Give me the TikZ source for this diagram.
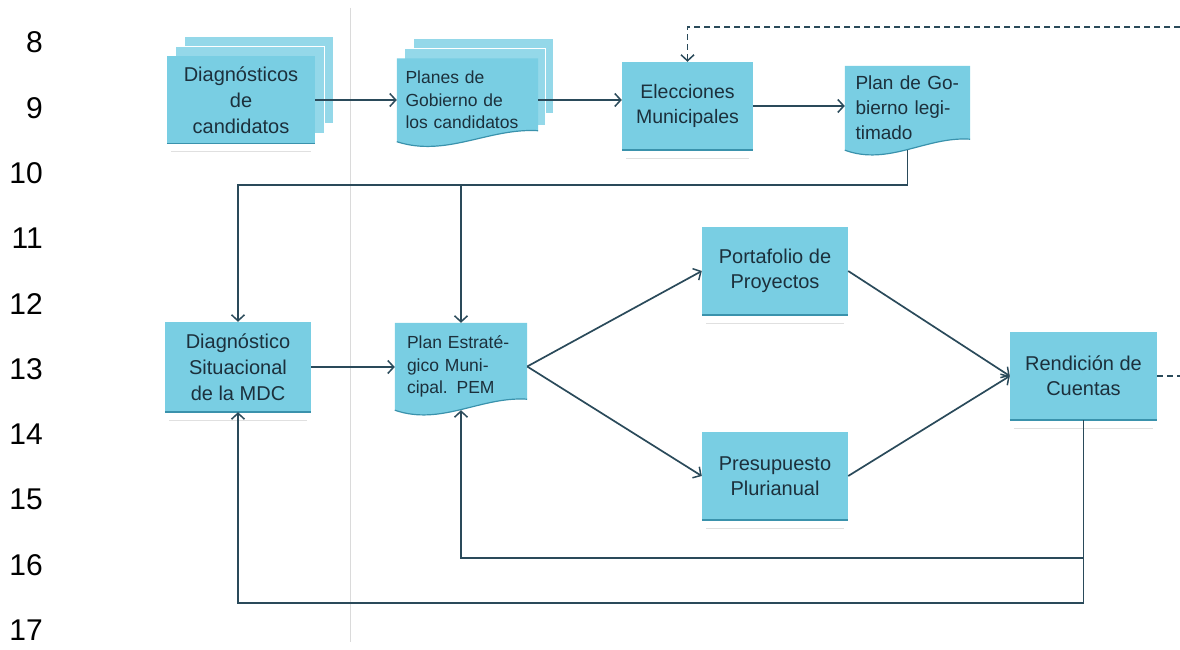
\documentclass[tikz,border=0pt]{standalone}
\usepackage{fontspec}
\setmainfont{Liberation Sans}
\usetikzlibrary{arrows.meta,backgrounds,calc}
\definecolor{boxblue}{RGB}{121,206,227}
\definecolor{boxedge}{RGB}{58,146,172}
\definecolor{flow}{RGB}{42,74,90}
\definecolor{txt}{RGB}{28,48,60}
\definecolor{rulegray}{RGB}{218,218,218}
\newcommand{\docfill}[1]{%
  \fill[boxblue] (#1.north west) -- (#1.north east) -- ($(#1.south east)+(0,-11)$)
    .. controls ($(#1.south west)!.65!(#1.south east)+(0,-14)$) and ($(#1.south west)!.35!(#1.south east)+(0,16)$) .. (#1.south west) -- cycle;
  \draw[boxedge, line width=1.2pt] ($(#1.south east)+(0,-11)$)
    .. controls ($(#1.south west)!.65!(#1.south east)+(0,-14)$) and ($(#1.south west)!.35!(#1.south east)+(0,16)$) .. (#1.south west);}

\begin{document}
\begin{tikzpicture}[x=1pt,y=-1pt,
    box/.style={fill=boxblue, text=txt, align=center, inner sep=0pt, font=\fontsize{20}{26}\selectfont},
    doc/.style={text=txt, align=left, inner sep=0pt, font=\fontsize{17.5}{22.5}\selectfont},
    layer/.style={fill=boxblue!80!white, draw=white, line width=1pt},
    flowline/.style={draw=flow, line width=1.7pt},
    arr/.style={flowline, -{Straight Barb[length=6pt,width=13pt,line width=1.5pt]}},
    loopback/.style={arr, line width=1.3pt, dash pattern=on 6pt off 4pt},
    lineno/.style={anchor=east, inner sep=0pt, font=\fontsize{30}{30}\selectfont}]
  \useasboundingbox (0,0) rectangle (1180,650);
  \draw[rulegray, line width=0.8pt] (350,8) -- (350,642);
  % line numbers
  \foreach \k [count=\i from 0] in {8,...,17}
    \node[lineno] (n\k) at (43,42.5+65.3*\i) {\k};
  % top row
  \node[box, minimum width=148pt, minimum height=87pt] (dc) at (241,100) {Diagnósticos\\de\\candidatos};
  \node[doc, text width=124pt, minimum width=141pt, minimum height=83pt] (pg) at (467.5,100) {Planes de\\Gobierno de\\los candidatos};
  \node[box, minimum width=131pt, minimum height=88pt, font=\fontsize{19.5}{25}\selectfont] (el) at (687.5,106) {Elecciones\\Municipales};
  \node[doc, text width=104pt, minimum width=125pt, minimum height=84pt, font=\fontsize{19}{25}\selectfont] (pl) at (907.5,108) {Plan de Go-\\bierno legi-\\timado};
  % middle
  \node[box, minimum width=146pt, minimum height=90pt] (ds) at (238,367) {Diagnóstico\\Situacional\\de la MDC};
  \node[doc, text width=108pt, minimum width=132pt, minimum height=87pt] (pem) at (461,366.5) {Plan Estraté-\\gico Muni-\\cipal. PEM};
  \node[box, minimum width=146pt, minimum height=88pt, font=\fontsize{20}{25}\selectfont] (pf) at (775,271) {Portafolio de\\Proyectos};
  \node[box, minimum width=146pt, minimum height=88pt, font=\fontsize{20}{25}\selectfont] (pp) at (775,476) {Presupuesto\\Plurianual};
  \node[box, minimum width=147pt, minimum height=88pt, font=\fontsize{20}{25}\selectfont] (rc) at (1083.5,376) {Rendición de\\Cuentas};
  \begin{scope}[on background layer]
    \fill[layer] ($(dc.north west)+(18,-20)$) rectangle ($(dc.south east)+(18,-20)$);
    \fill[layer] ($(dc.north west)+(9,-10)$) rectangle ($(dc.south east)+(9,-10)$);
    \draw[layer] ($(pg.north west)+(17,-20)$) rectangle ($(pg.south east)+(15,-28)$);
    \draw[layer] ($(pg.north west)+(8,-10)$) rectangle ($(pg.south east)+(7,-16)$);
    \docfill{pg}
    \docfill{pl}
    \docfill{pem}
  \end{scope}
  \foreach \n in {dc,el,ds,pf,pp,rc}{
    \draw[boxedge, line width=1.5pt] (\n.south west) -- (\n.south east);
    \draw[black!12, line width=1pt] ($(\n.south west)+(4,8)$) -- ($(\n.south east)+(-4,8)$);
  }
  \coordinate (jt) at ($(pl.south)+(0,35)$);
  \coordinate (jm) at ($(rc.south)+(0,138)$);
  \coordinate (jb) at ($(rc.south)+(0,183)$);
  \coordinate (far) at (1200,27);
  % connectors
  \draw[arr] (dc.east) -- (dc.east -| pg.west);
  \draw[arr] (pg.east) -- (pg.east -| el.west);
  \draw[arr] (el.east) -- (el.east -| pl.west);
  \draw[arr] (pl.south) |- (ds.north |- jt) -- (ds.north);
  \draw[arr] (pem.north |- jt) -- (pem.north);
  \draw[arr] (ds.east) -- (ds.east -| pem.west);
  \draw[arr] (pem.east) -- (pf.west);
  \draw[arr] (pem.east) -- (pp.west);
  \draw[arr] (pf.east) -- (rc.west);
  \draw[arr] (pp.east) -- (rc.west);
  \draw[arr] (rc.south) |- (ds.south |- jb) -- (ds.south);
  \draw[arr] (jm) -| (pem.south);
  \begin{scope}
    \clip (0,0) rectangle (1180,650);
    \draw[loopback, -] (rc.east) -- (rc.east -| far);
    \draw[loopback] (far) -- (el.north |- far) -- (el.north);
  \end{scope}
\end{tikzpicture}
\end{document}
